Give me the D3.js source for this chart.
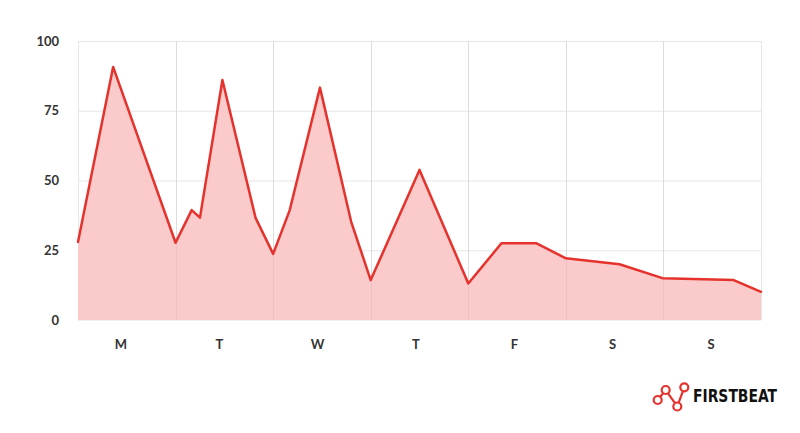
<!DOCTYPE html>
<html>
<head>
<meta charset="utf-8">
<script src="https://cdn.jsdelivr.net/npm/d3@7"></script>
<style>
  html, body { margin: 0; padding: 0; background: #fff; }
  svg { display: block; }
</style>
</head>
<body>
<svg id="chart" width="800" height="433"></svg>
<script>
// ---- data ----
const dayLabels = ["M", "T", "W", "T", "F", "S", "S"];
const yTicks = [0, 25, 50, 75, 100];
// position in days (0 = start of Monday, 7 = end of Sunday)
const pointDays = [0, 0.36, 1.0, 1.165, 1.25, 1.48, 1.82, 2.0, 2.17, 2.48, 2.8, 3.0, 3.5, 4.0, 4.34, 4.7, 5.0, 5.55, 5.99, 6.72, 7.0];
const pointValues = [28, 90.7, 27.7, 39.4, 36.7, 86, 36.6, 23.7, 39.4, 83.3, 35.2, 14.3, 53.8, 13.1, 27.5, 27.5, 22.1, 20, 15, 14.3, 10.1];

// ---- layout ----
const svg = d3.select("#chart");
const mLeft = 78, mRight = 761, mTop = 41, mBottom = 320;

const x = d3.scaleLinear().domain([0, 7]).range([mLeft, mRight]);
const y = d3.scaleLinear().domain([0, 100]).range([mBottom, mTop]);
const xLabel = d3.scalePoint().domain(d3.range(dayLabels.length)).range([121, 711]);

const data = pointDays.map((d, i) => ({ d, v: pointValues[i] }));

// grid
const grid = svg.append("g");
grid.selectAll("line.h").data(yTicks.filter(t => t > 0)).join("line")
  .attr("x1", mLeft).attr("x2", mRight)
  .attr("y1", d => y(d) + 0.5).attr("y2", d => y(d) + 0.5)
  .attr("stroke", "#e6e6e6").attr("stroke-width", 1);
grid.selectAll("line.v").data(d3.range(0, 8)).join("line")
  .attr("x1", d => Math.round(x(d)) + 0.5).attr("x2", d => Math.round(x(d)) + 0.5)
  .attr("y1", mTop).attr("y2", mBottom)
  .attr("stroke", "#e6e6e6").attr("stroke-width", 1);

// area
const area = d3.area().x(d => x(d.d)).y0(y(0)).y1(d => y(d.v));
svg.append("path").datum(data).attr("d", area)
  .attr("fill", "#f9c5c4").attr("fill-opacity", 0.9);

// vertical gridlines faintly over the fill
svg.append("g").selectAll("line").data(d3.range(1, 7)).join("line")
  .attr("x1", d => Math.round(x(d)) + 0.5).attr("x2", d => Math.round(x(d)) + 0.5)
  .attr("y1", mTop).attr("y2", mBottom)
  .attr("stroke", "#888").attr("stroke-opacity", 0.1).attr("stroke-width", 1);

// bottom line
svg.append("line").attr("x1", mLeft).attr("x2", mRight)
  .attr("y1", mBottom + 0.5).attr("y2", mBottom + 0.5)
  .attr("stroke", "#eeeeee");

// line
const line = d3.line().x(d => x(d.d)).y(d => y(d.v));
svg.append("path").datum(data).attr("d", line)
  .attr("fill", "none").attr("stroke", "#e5322d").attr("stroke-width", 2.5)
  .attr("stroke-linejoin", "round").attr("stroke-linecap", "round");

// y labels
svg.append("g").selectAll("text").data(yTicks).join("text")
  .attr("x", 59).attr("y", d => y(d)).attr("dy", "0.35em")
  .attr("text-anchor", "end")
  .attr("font-family", "Lato, 'Open Sans', sans-serif").attr("font-weight", 700)
  .attr("font-size", 13).attr("fill", "#333")
  .text(d => d);

// x labels
svg.append("g").selectAll("text").data(dayLabels).join("text")
  .attr("x", (d, i) => xLabel(i)).attr("y", 344).attr("dy", "0.35em")
  .attr("text-anchor", "middle")
  .attr("font-family", "Lato, 'Open Sans', sans-serif").attr("font-weight", 700)
  .attr("font-size", 13).attr("fill", "#333")
  .text(d => d);

// logo
const logo = svg.append("g");
const nodes = [[657.7, 400], [665.7, 390], [677.3, 406.5], [684.3, 387.3]];
logo.append("path").attr("d", d3.line()(nodes))
  .attr("fill", "none").attr("stroke", "#e5322d").attr("stroke-width", 2.2);
logo.selectAll("circle").data(nodes).join("circle")
  .attr("cx", d => d[0]).attr("cy", d => d[1]).attr("r", 4)
  .attr("fill", "#fff").attr("stroke", "#e5322d").attr("stroke-width", 2.2);
logo.append("text").attr("x", 693).attr("y", 402)
  .attr("font-family", "'Liberation Sans Narrow', 'DejaVu Sans Condensed', sans-serif")
  .attr("font-weight", 700).attr("font-size", 17).attr("fill", "#111")
  .attr("textLength", 84).attr("lengthAdjust", "spacingAndGlyphs")
  .text("FIRSTBEAT");
</script>
</body>
</html>
